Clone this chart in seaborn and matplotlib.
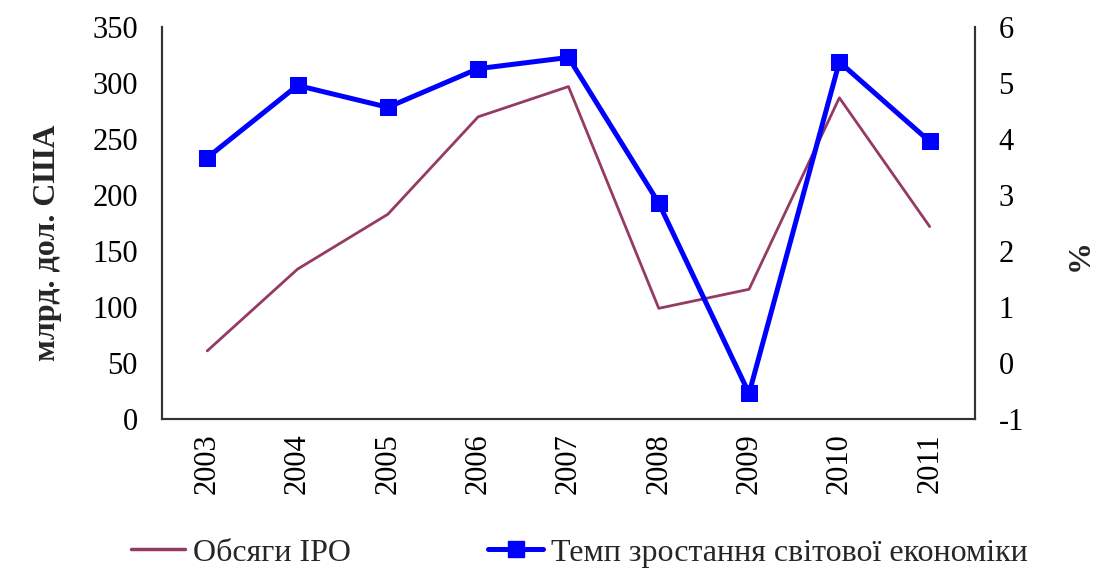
import pandas as pd
import matplotlib.pyplot as plt
import seaborn as sns
import numpy as np
from matplotlib.lines import Line2D

years = ['2003', '2004', '2005', '2006', '2007', '2008', '2009', '2010', '2011']
ipo_volume = [61, 134, 183, 270, 297, 99, 116, 287, 172]
growth_rate = [3.67, 4.96, 4.57, 5.26, 5.46, 2.86, -0.54, 5.38, 3.96]

df = pd.DataFrame({'year': years, 'pos': range(len(years)),
                   'ipo': ipo_volume, 'growth': growth_rate})

sns.set_style('white')
plt.rcParams['font.family'] = ['Liberation Serif', 'DejaVu Serif']
plt.rcParams['font.size'] = 22

fig, ax = plt.subplots(figsize=(10.99, 5.79), dpi=100)
fig.subplots_adjust(left=0.1475, right=0.887, top=0.953, bottom=0.276)

sns.lineplot(x='pos', y='ipo', data=df, ax=ax, color='#953a64', linewidth=2.0, legend=False)
ax2 = ax.twinx()
sns.lineplot(x='pos', y='growth', data=df, ax=ax2, color='#0000ff', linewidth=3.6,
             marker='s', markersize=11, markeredgecolor='#0000ff', legend=False)

ax.set_xlim(-0.5, len(years) - 0.5)
ax.set_ylim(0, 350)
ax.set_yticks(range(0, 351, 50))
ax2.set_ylim(-1, 6)
ax2.set_yticks(range(-1, 7))
ax2.set_yticklabels([str(v) for v in range(-1, 7)])
ax.set_xticks(range(len(years)))
ax.set_xticklabels(years, rotation=90)

ax.set_xlabel('')
ax.set_ylabel('млрд. дол. США', fontweight='bold', fontsize=23)
ax2.set_ylabel('%', fontweight='bold', fontsize=23)
ax.yaxis.set_label_coords(-0.123, 0.45)
ax2.yaxis.set_label_coords(1.112, 0.42)

ax.tick_params(axis='y', length=0, labelsize=22, colors='black', pad=17.5)
ax.tick_params(axis='x', length=0, labelsize=22, colors='black', pad=10)
ax2.tick_params(axis='y', length=0, labelsize=22, colors='black', pad=17)
for a in (ax, ax2):
    a.spines['top'].set_visible(False)
    for s in ('left', 'right', 'bottom'):
        a.spines[s].set_color('#333333')
        a.spines[s].set_linewidth(1.5)

handles = [Line2D([0], [0], color='#953a64', linewidth=2.5),
           Line2D([0], [0], color='#0000ff', linewidth=3.6, marker='s', markersize=11)]
fig.legend(handles, ['Обсяги IPO', 'Темп зростання світової економіки'],
           loc='lower center', ncol=2, frameon=False, fontsize=23,
           bbox_to_anchor=(0.527, -0.03), columnspacing=4.3, handlelength=1.7,
           handletextpad=0.25)

plt.savefig('out.png', dpi=100)
plt.close()
